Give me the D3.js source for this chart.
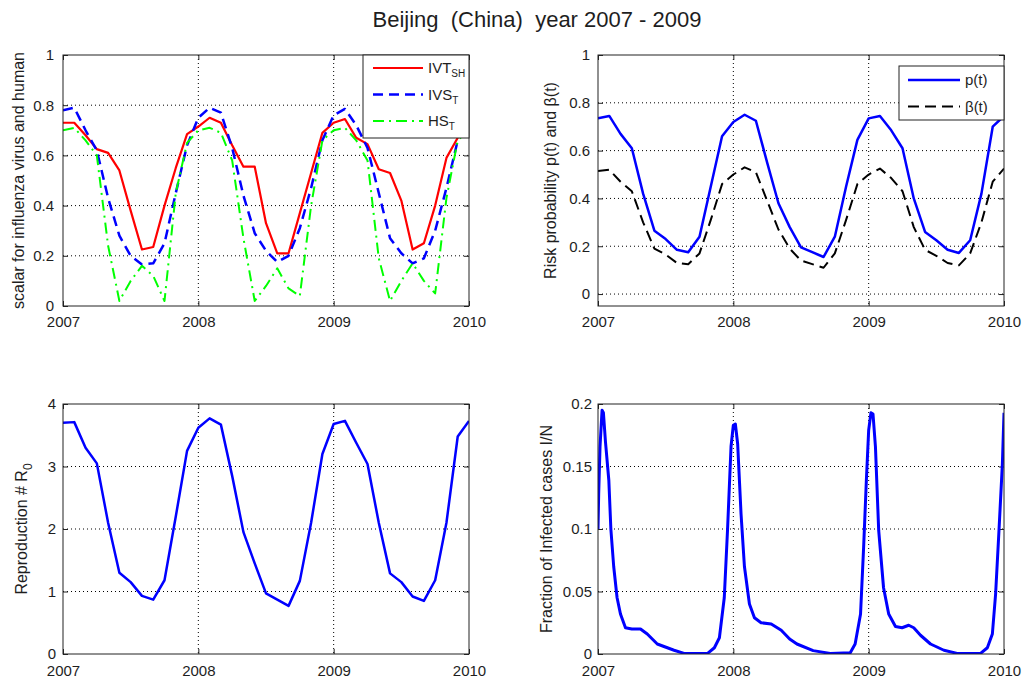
<!DOCTYPE html>
<html>
<head>
<meta charset="utf-8">
<script src="https://cdn.jsdelivr.net/npm/d3@7/dist/d3.min.js"></script>
<style>
body { margin: 0; background: #fff; }
svg text { font-family: Arial, "Liberation Sans", sans-serif; fill: #1e1e1e; }
</style>
</head>
<body>
<svg width="1025" height="680"></svg>
<script>
// monthly samples, 2007-01 .. 2010-01
const months = d3.range(37).map(k => 2007 + k / 12);
const yearTicks = [2007, 2008, 2009, 2010];

// top left: scalars
const ivtSH = [0.73, 0.73, 0.68, 0.625, 0.61, 0.54, 0.38, 0.225, 0.235, 0.40, 0.55, 0.685,
  0.715, 0.75, 0.73, 0.64, 0.555, 0.555, 0.33, 0.21, 0.21, 0.37, 0.53, 0.69,
  0.73, 0.745, 0.67, 0.645, 0.545, 0.53, 0.42, 0.225, 0.25, 0.40, 0.59, 0.67, 0.73];
const ivsT = [0.78, 0.79, 0.70, 0.62, 0.43, 0.28, 0.20, 0.165, 0.17, 0.25, 0.45, 0.64,
  0.75, 0.79, 0.77, 0.63, 0.44, 0.29, 0.22, 0.175, 0.20, 0.31, 0.47, 0.66,
  0.76, 0.785, 0.72, 0.63, 0.45, 0.27, 0.21, 0.17, 0.19, 0.30, 0.47, 0.66, 0.76];
const hsT = [0.70, 0.71, 0.66, 0.60, 0.24, 0.02, 0.10, 0.16, 0.12, 0.02, 0.45, 0.65,
  0.70, 0.71, 0.69, 0.58, 0.27, 0.02, 0.08, 0.15, 0.07, 0.04, 0.40, 0.66,
  0.70, 0.71, 0.66, 0.58, 0.19, 0.02, 0.10, 0.17, 0.10, 0.05, 0.43, 0.66, 0.70];

// top right: risk probability and beta
const pT = [0.735, 0.745, 0.67, 0.61, 0.42, 0.265, 0.23, 0.185, 0.175, 0.24, 0.45, 0.66,
  0.72, 0.75, 0.725, 0.55, 0.38, 0.28, 0.195, 0.175, 0.155, 0.24, 0.45, 0.645,
  0.735, 0.745, 0.685, 0.61, 0.40, 0.26, 0.225, 0.185, 0.172, 0.225, 0.42, 0.70, 0.745];
const betaT = [0.515, 0.52, 0.47, 0.43, 0.30, 0.19, 0.165, 0.13, 0.125, 0.17, 0.31, 0.46,
  0.50, 0.53, 0.51, 0.39, 0.27, 0.19, 0.14, 0.125, 0.11, 0.17, 0.31, 0.46,
  0.50, 0.525, 0.485, 0.43, 0.28, 0.185, 0.16, 0.13, 0.12, 0.17, 0.30, 0.47, 0.525];

// bottom left: reproduction number
const r0 = [3.70, 3.71, 3.30, 3.05, 2.10, 1.30, 1.15, 0.93, 0.87, 1.18, 2.20, 3.25,
  3.62, 3.77, 3.67, 2.85, 1.95, 1.45, 0.97, 0.87, 0.77, 1.17, 2.10, 3.20,
  3.68, 3.73, 3.38, 3.04, 2.10, 1.29, 1.15, 0.92, 0.85, 1.18, 2.10, 3.48, 3.73];

// bottom right: infected fraction (denser sampling)
const infT = [2007.000, 2007.005, 2007.015, 2007.030, 2007.040, 2007.055, 2007.080, 2007.095,
  2007.116, 2007.141, 2007.166, 2007.203, 2007.250, 2007.314, 2007.364, 2007.438, 2007.562,
  2007.636, 2007.810, 2007.860, 2007.897, 2007.933, 2007.957, 2007.983, 2008.000, 2008.015,
  2008.032, 2008.057, 2008.082, 2008.119, 2008.156, 2008.205, 2008.280, 2008.354, 2008.416,
  2008.470, 2008.590, 2008.716, 2008.864, 2008.900, 2008.940, 2008.963, 2008.983, 2009.000,
  2009.017, 2009.032, 2009.050, 2009.074, 2009.110, 2009.148, 2009.198, 2009.247, 2009.296,
  2009.333, 2009.383, 2009.457, 2009.556, 2009.654, 2009.827, 2009.877, 2009.914, 2009.938,
  2009.963, 2009.988, 2010.000];
const infV = [0.100, 0.128, 0.166, 0.195, 0.193, 0.170, 0.139, 0.100,
  0.070, 0.045, 0.032, 0.021, 0.020, 0.020, 0.016, 0.008, 0.003,
  0.0005, 0.0005, 0.005, 0.013, 0.045, 0.099, 0.166, 0.183, 0.184,
  0.168, 0.112, 0.070, 0.040, 0.029, 0.025, 0.024, 0.019, 0.012,
  0.008, 0.0027, 0.0005, 0.001, 0.008, 0.032, 0.086, 0.139, 0.179,
  0.193, 0.192, 0.166, 0.099, 0.053, 0.032, 0.022, 0.021, 0.023,
  0.021, 0.015, 0.008, 0.003, 0.0005, 0.0005, 0.005, 0.016, 0.048,
  0.099, 0.152, 0.193];

const svg = d3.select("svg");
const fmt = d => String(+d.toFixed(2));

svg.append("text")
    .attr("x", 537).attr("y", 27)
    .attr("text-anchor", "middle")
    .attr("font-size", 22)
    .attr("xml:space", "preserve")
    .style("white-space", "pre")
    .text("Beijing  (China)  year 2007 - 2009");

function panel(o) {
    const x = d3.scaleLinear().domain([2007, 2010]).range([o.left, o.right]);
    const y = d3.scaleLinear().domain(o.ydom).range([o.bottom, o.top]);
    const g = svg.append("g");
    const w = o.right - o.left, h = o.bottom - o.top;

    // dotted grid, skip the ones on the box
    g.append("g").selectAll("line")
        .data(yearTicks.filter(v => x(v) > o.left + 1 && x(v) < o.right - 1))
        .enter().append("line")
        .attr("x1", d => x(d)).attr("x2", d => x(d))
        .attr("y1", o.top).attr("y2", o.bottom)
        .attr("stroke", "#000").attr("stroke-width", 1).attr("stroke-dasharray", "1,3");
    g.append("g").selectAll("line")
        .data(o.yticks.filter(v => y(v) > o.top + 1 && y(v) < o.bottom - 1))
        .enter().append("line")
        .attr("x1", o.left).attr("x2", o.right)
        .attr("y1", d => y(d)).attr("y2", d => y(d))
        .attr("stroke", "#000").attr("stroke-width", 1).attr("stroke-dasharray", "1,3");

    // ticks inward on all four sides (labels on left / bottom only)
    const axB = g.append("g").attr("transform", `translate(0,${o.bottom})`)
        .call(d3.axisBottom(x).tickValues(yearTicks).tickSize(-5).tickPadding(o.xpad).tickFormat(d3.format("d")));
    const axT = g.append("g").attr("transform", `translate(0,${o.top})`)
        .call(d3.axisTop(x).tickValues(yearTicks).tickSize(-5).tickFormat(""));
    const axL = g.append("g").attr("transform", `translate(${o.left},0)`)
        .call(d3.axisLeft(y).tickValues(o.yticks).tickSize(-5).tickPadding(o.ypad).tickFormat(fmt));
    const axR = g.append("g").attr("transform", `translate(${o.right},0)`)
        .call(d3.axisRight(y).tickValues(o.yticks).tickSize(-5).tickFormat(""));
    [axB, axT, axL, axR].forEach(a => {
        a.select(".domain").remove();
        a.selectAll("line").attr("stroke", "#222");
        a.selectAll("text").attr("font-size", 15).attr("fill", "#1e1e1e").attr("font-family", "Arial, 'Liberation Sans', sans-serif");
    });

    // series
    const clipId = "clip" + o.id;
    svg.append("defs").append("clipPath").attr("id", clipId)
        .append("rect").attr("x", o.left).attr("y", o.top).attr("width", w).attr("height", h);
    const line = d3.line().x(d => x(d[0])).y(d => y(d[1]));
    o.series.forEach(s => {
        g.append("path")
            .datum(s.xs.map((t, i) => [t, s.vs[i]]))
            .attr("clip-path", `url(#${clipId})`)
            .attr("fill", "none")
            .attr("stroke", s.color)
            .attr("stroke-width", s.width)
            .attr("stroke-dasharray", s.dash || null)
            .attr("stroke-linejoin", "round")
            .attr("d", line);
    });

    // box
    g.append("rect")
        .attr("x", o.left).attr("y", o.top).attr("width", w).attr("height", h)
        .attr("fill", "none").attr("stroke", "#222").attr("stroke-width", 1);

    // y label
    const lab = g.append("text")
        .attr("transform", `translate(${o.labelX},${(o.top + o.bottom) / 2}) rotate(-90)`)
        .attr("text-anchor", "middle")
        .attr("font-size", 16);
    o.label.forEach(p => {
        const ts = lab.append("tspan").text(p.t);
        if (p.sub) ts.attr("font-size", 12).attr("dy", 5);
    });

    // legend
    if (o.legend) {
        const L = o.legend;
        const lg = g.append("g");
        lg.append("rect")
            .attr("x", L.x).attr("y", L.y).attr("width", L.w).attr("height", L.h)
            .attr("fill", "#fff").attr("stroke", "#222").attr("stroke-width", 1);
        o.series.forEach((s, i) => {
            const yy = L.y + L.row0 + i * L.step;
            lg.append("line")
                .attr("x1", L.x + L.l1).attr("x2", L.x + L.l2)
                .attr("y1", yy).attr("y2", yy)
                .attr("stroke", s.color).attr("stroke-width", s.width)
                .attr("stroke-dasharray", s.dash || null);
            const t = lg.append("text")
                .attr("x", L.x + L.tx).attr("y", yy + 5)
                .attr("font-size", 15);
            s.name.forEach(p => {
                const ts = t.append("tspan").text(p.t);
                if (p.sub) ts.attr("font-size", 10).attr("dy", 4);
            });
        });
    }
}

panel({
    id: "tl", left: 63, right: 469, top: 55, bottom: 306,
    ydom: [0, 1], yticks: [0, 0.2, 0.4, 0.6, 0.8, 1], xpad: 10, ypad: 9, labelX: 24,
    label: [{ t: "scalar for influenza virus and human" }],
    series: [
        { xs: months, vs: ivtSH, color: "#ff0000", width: 2.2, name: [{ t: "IVT" }, { t: "SH", sub: true }] },
        { xs: months, vs: ivsT, color: "#0000ff", width: 2.5, dash: "10,6", name: [{ t: "IVS" }, { t: "T", sub: true }] },
        { xs: months, vs: hsT, color: "#00ff00", width: 2, dash: "11,5,2,5", name: [{ t: "HS" }, { t: "T", sub: true }] }
    ],
    legend: { x: 363, y: 55, w: 106, h: 83, row0: 13, step: 26.5, l1: 10, l2: 60, tx: 65 }
});

panel({
    id: "tr", left: 598, right: 1004, top: 55, bottom: 306,
    ydom: [-0.05, 1], yticks: [0, 0.2, 0.4, 0.6, 0.8, 1], xpad: 10, ypad: 8, labelX: 556,
    label: [{ t: "Risk probability p(t) and β(t)" }],
    series: [
        { xs: months, vs: pT, color: "#0000ff", width: 2.5, name: [{ t: "p(t)" }] },
        { xs: months, vs: betaT, color: "#000000", width: 2, dash: "11,6", name: [{ t: "β(t)" }] }
    ],
    legend: { x: 899, y: 66, w: 105, h: 54, row0: 14, step: 26.5, l1: 9, l2: 61, tx: 66 }
});

panel({
    id: "bl", left: 63, right: 469, top: 404, bottom: 654,
    ydom: [0, 4], yticks: [0, 1, 2, 3, 4], xpad: 11, ypad: 7, labelX: 27,
    label: [{ t: "Reproduction # R" }, { t: "0", sub: true }],
    series: [
        { xs: months, vs: r0, color: "#0000ff", width: 2.5, name: [{ t: "R0" }] }
    ]
});

panel({
    id: "br", left: 598, right: 1004, top: 404, bottom: 654,
    ydom: [0, 0.2], yticks: [0, 0.05, 0.1, 0.15, 0.2], xpad: 11, ypad: 6, labelX: 552,
    label: [{ t: "Fraction of Infected cases I/N" }],
    series: [
        { xs: infT, vs: infV, color: "#0000ff", width: 3, name: [{ t: "I/N" }] }
    ]
});
</script>
</body>
</html>
